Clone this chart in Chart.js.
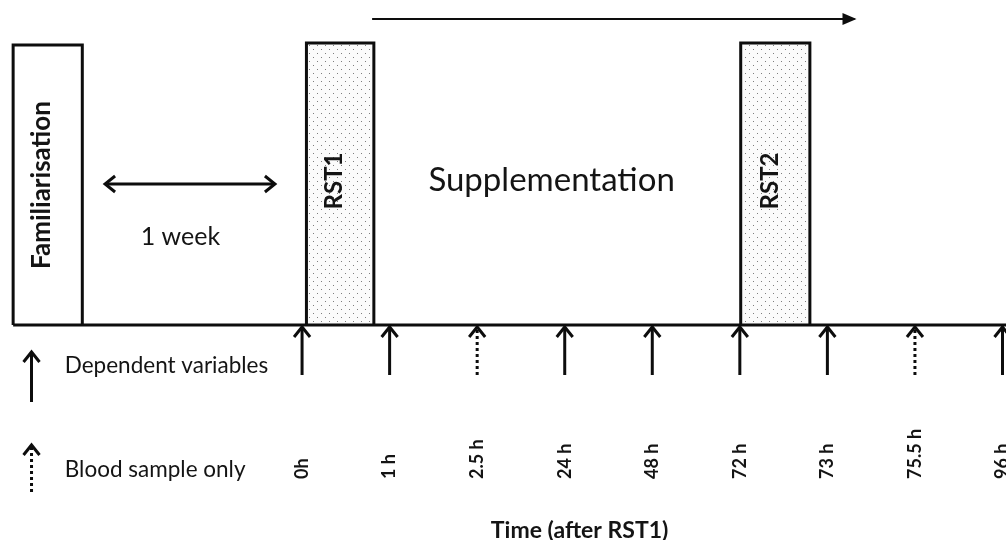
<!DOCTYPE html>
<html lang="en">
<head>
<meta charset="UTF-8">
<title>Study design timeline</title>
<script src="https://cdn.jsdelivr.net/npm/chart.js"></script>
<style>
  html, body { margin: 0; padding: 0; background: #fff; }
</style>
</head>
<body>
<canvas id="timeline" width="1006" height="540"></canvas>
<script>
// sampling time points after RST1, one slot each along the axis
const timeLabels = ['0h', '1 h', '2.5 h', '24 h', '48 h', '72 h', '73 h', '75.5 h', '96 h'];
const sampleType = ['full', 'full', 'blood', 'full', 'full', 'full', 'full', 'blood', 'full'];

// phases shown as boxes (start / end in time-slot units, height above the axis)
const phaseNames = ['Familiarisation', 'RST1', 'RST2'];
const phaseStart = [-3.30, 0.05, 5.01];
const phaseEnd = [-2.51, 0.82, 5.80];
const phaseHeight = [280, 282, 282];
const phaseFilled = [false, true, true];

// span arrows: supplementation period and gap between familiarisation and RST1
const suppFrom = 0.80, suppTo = 6.31;
const gapFrom = -2.25, gapTo = -0.31;

// layout (value units of the two hidden scales)
const L = {
  xMin: -3.45, xMax: 8.04, yMin: -215, yMax: 325,
  axisStart: -3.30, axisEnd: 8.06,
  arrowFoot: -50, arrowTip: -2,
  legendX: -3.09,
  suppY: 306, gapY: 141
};

const ink = '#0d0d0d';

// dotted fill used for the RST boxes
function dotPattern() {
  const c = document.createElement('canvas');
  c.width = 8; c.height = 8;
  const g = c.getContext('2d');
  g.fillStyle = '#fbfbfb';
  g.fillRect(0, 0, 8, 8);
  g.fillStyle = '#7e7e7e';
  g.fillRect(1, 1, 1, 1);
  g.fillRect(5, 5, 1, 1);
  return g.createPattern(c, 'repeat');
}

function seg(points, extra) {
  return Object.assign({
    data: points,
    showLine: true,
    borderColor: ink,
    borderWidth: 3,
    pointRadius: 0,
    fill: false
  }, extra);
}

function buildDatasets() {
  const pattern = dotPattern();
  const sets = [];

  // axis line
  sets.push(seg([{x: L.axisStart, y: 0}, {x: L.axisEnd, y: 0}], {order: 1}));

  // phase boxes
  phaseNames.forEach((name, i) => {
    sets.push(seg([
      {x: phaseStart[i], y: 0},
      {x: phaseStart[i], y: phaseHeight[i]},
      {x: phaseEnd[i], y: phaseHeight[i]},
      {x: phaseEnd[i], y: 0}
    ], {
      order: 3,
      fill: 'origin',
      backgroundColor: phaseFilled[i] ? pattern : '#ffffff'
    }));
  });

  // sampling arrows under the axis
  timeLabels.forEach((lab, i) => {
    sets.push(seg([{x: i, y: L.arrowFoot}, {x: i, y: L.arrowTip}], {
      order: 0,
      borderDash: sampleType[i] === 'blood' ? [3, 3] : [],
      arrowHead: 'end', headStyle: 'open'
    }));
  });

  // legend arrows
  sets.push(seg([{x: L.legendX, y: -77}, {x: L.legendX, y: -27}], {
    order: 0, arrowHead: 'end', headStyle: 'open'
  }));
  sets.push(seg([{x: L.legendX, y: -167}, {x: L.legendX, y: -120}], {
    order: 0, borderDash: [3, 3], arrowHead: 'end', headStyle: 'open'
  }));

  // supplementation arrow
  sets.push(seg([{x: suppFrom, y: L.suppY}, {x: suppTo, y: L.suppY}], {
    order: 0, borderWidth: 2, arrowHead: 'end', headStyle: 'filled'
  }));
  // one-week double arrow
  sets.push(seg([{x: gapFrom, y: L.gapY}, {x: gapTo, y: L.gapY}], {
    order: 0, arrowHead: 'both', headStyle: 'open'
  }));
  return sets;
}

const texts = [
  {text: 'Familiarisation', x: -2.97, y: 140, font: 'bold 26px Lato', rotate: true},
  {text: 'RST1', x: 0.37, y: 144, font: 'bold 24px Lato', rotate: true},
  {text: 'RST2', x: 5.35, y: 144, font: 'bold 24px Lato', rotate: true},
  {text: 'Supplementation', x: 2.85, y: 145, font: '33px Lato'},
  {text: '1 week', x: -1.39, y: 88, font: '25px Lato'},
  {text: 'Dependent variables', x: -2.71, y: -41, font: '22.5px Lato', align: 'left'},
  {text: 'Blood sample only', x: -2.71, y: -145, font: '22.5px Lato', align: 'left'},
  {text: 'Time (after RST1)', x: 3.17, y: -206, font: 'bold 23px Lato'}
];

function drawHead(ctx, from, to, style) {
  const ang = Math.atan2(to.y - from.y, to.x - from.x);
  ctx.save();
  ctx.translate(to.x, to.y);
  ctx.rotate(ang);
  ctx.strokeStyle = ink;
  ctx.fillStyle = ink;
  if (style === 'filled') {
    ctx.beginPath();
    ctx.moveTo(2, 0);
    ctx.lineTo(-12, -6);
    ctx.lineTo(-12, 6);
    ctx.closePath();
    ctx.fill();
  } else {
    ctx.lineWidth = 3;
    ctx.lineCap = 'butt';
    ctx.lineJoin = 'miter';
    ctx.beginPath();
    ctx.moveTo(-10, -8);
    ctx.lineTo(0, 0);
    ctx.lineTo(-10, 8);
    ctx.stroke();
  }
  ctx.restore();
}

const arrowPlugin = {
  id: 'arrowHeads',
  afterDatasetsDraw(chart) {
    const ctx = chart.ctx;
    chart.data.datasets.forEach((ds, i) => {
      if (!ds.arrowHead) return;
      const pts = chart.getDatasetMeta(i).data;
      const a = pts[0], b = pts[pts.length - 1];
      drawHead(ctx, a, b, ds.headStyle);
      if (ds.arrowHead === 'both') drawHead(ctx, b, a, ds.headStyle);
    });
  }
};

const textPlugin = {
  id: 'diagramText',
  afterDatasetsDraw(chart) {
    const {ctx, scales: {x, y}} = chart;
    const put = t => {
      ctx.save();
      ctx.translate(x.getPixelForValue(t.x), y.getPixelForValue(t.y));
      if (t.rotate) ctx.rotate(-Math.PI / 2);
      ctx.font = t.font;
      ctx.fillStyle = '#141414';
      ctx.textAlign = t.align || 'center';
      ctx.textBaseline = 'middle';
      ctx.fillText(t.text, 0, 0);
      ctx.restore();
    };
    texts.forEach(put);
    // time point labels, written upwards from a common bottom line
    timeLabels.forEach((lab, i) => {
      put({text: lab, x: i, y: -154, font: 'bold 18px Lato', rotate: true, align: 'left'});
    });
  }
};

function makeChart() {
  new Chart(document.getElementById('timeline'), {
    type: 'scatter',
    data: { datasets: buildDatasets() },
    options: {
      responsive: false,
      animation: false,
      devicePixelRatio: 1,
      layout: { padding: 0 },
      plugins: { legend: { display: false }, tooltip: { enabled: false } },
      scales: {
        x: { type: 'linear', min: L.xMin, max: L.xMax, display: false },
        y: { type: 'linear', min: L.yMin, max: L.yMax, display: false }
      }
    },
    plugins: [arrowPlugin, textPlugin]
  });
}

Promise.all([
  document.fonts.load('22px Lato'),
  document.fonts.load('bold 22px Lato')
]).then(makeChart, makeChart);
</script>
</body>
</html>
